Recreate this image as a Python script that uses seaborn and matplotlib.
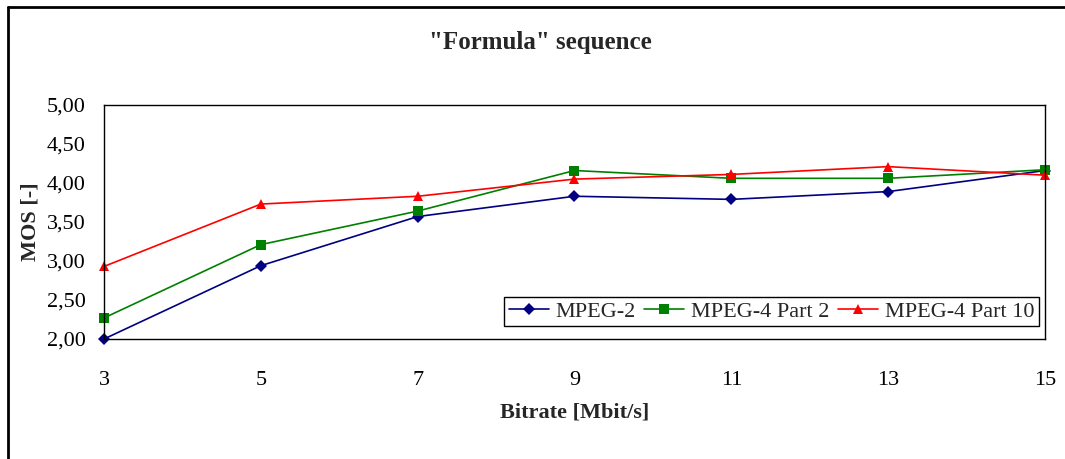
import matplotlib
matplotlib.use("Agg")
import matplotlib.pyplot as plt
from matplotlib.lines import Line2D
import seaborn as sns
import pandas as pd

# Bitrates in Mbit/s and mean opinion scores per codec
bitrates = [3, 5, 7, 9, 11, 13, 15]
mpeg2 = [2.00, 2.94, 3.57, 3.83, 3.79, 3.89, 4.16]
mpeg4_part2 = [2.27, 3.21, 3.64, 4.16, 4.06, 4.06, 4.17]
mpeg4_part10 = [2.93, 3.73, 3.83, 4.05, 4.11, 4.21, 4.10]
codecs = ["MPEG-2", "MPEG-4 Part 2", "MPEG-4 Part 10"]
y_ticks = [2.0, 2.5, 3.0, 3.5, 4.0, 4.5, 5.0]
y_tick_labels = ["2,00", "2,50", "3,00", "3,50", "4,00", "4,50", "5,00"]
x_ticks = [3, 5, 7, 9, 11, 13, 15]

df = pd.DataFrame({
    "Bitrate": bitrates * 3,
    "MOS": mpeg2 + mpeg4_part2 + mpeg4_part10,
    "Codec": [codecs[0]] * 7 + [codecs[1]] * 7 + [codecs[2]] * 7,
})

sns.set_style("white")
plt.rcParams["font.family"] = ["Liberation Serif", "DejaVu Serif"]

fig = plt.figure(figsize=(10.65, 4.59), dpi=100)
ax = fig.add_axes([104 / 1065, 1 - 339 / 459, (1045 - 104) / 1065, (339 - 105) / 459])

palette = {"MPEG-2": "#000080", "MPEG-4 Part 2": "#008000", "MPEG-4 Part 10": "#FF0000"}
markers = {"MPEG-2": "D", "MPEG-4 Part 2": "s", "MPEG-4 Part 10": "^"}

sns.lineplot(data=df, x="Bitrate", y="MOS", hue="Codec", style="Codec",
             hue_order=codecs, style_order=codecs,
             palette=palette, markers=markers, dashes=False,
             linewidth=1.2, markersize=6.5, markeredgewidth=0,
             ax=ax, clip_on=False, legend=True)

ax.set_xlim(3, 15)
ax.set_ylim(2, 5)
ax.set_xticks(x_ticks)
ax.set_xticklabels([str(v) for v in x_ticks])
ax.set_yticks(y_ticks)
ax.set_yticklabels(y_tick_labels)
ax.tick_params(axis="both", which="major", direction="out", length=5, width=1,
               color="black", labelsize=16, labelcolor="black")
ax.tick_params(axis="x", pad=18)
ax.tick_params(axis="y", pad=8)
ax.grid(False)
for side in ["left", "right", "top", "bottom"]:
    ax.spines[side].set_visible(True)
    ax.spines[side].set_color("black")
    ax.spines[side].set_linewidth(1.0)

ax.set_xlabel("")
ax.set_ylabel("")
fig.text(574.5 / 1065, 1 - 413 / 459, "Bitrate [Mbit/s]", ha="center", va="center",
         fontsize=16, fontweight="bold")
fig.text(30 / 1065, 1 - 222 / 459, "MOS [-]", ha="center", va="center",
         rotation=90, fontsize=16, fontweight="bold")
fig.text(540 / 1065, 1 - 43 / 459, '"Formula" sequence', ha="center", va="center",
         fontsize=18, fontweight="bold")

handles, labels = ax.get_legend_handles_labels()
leg = ax.legend(handles, labels, ncol=3, loc="lower right",
                bbox_to_anchor=(1039 / 1065, 1 - 326 / 459),
                bbox_transform=fig.transFigure, borderaxespad=0,
                fontsize=16, frameon=True, fancybox=False, shadow=False,
                framealpha=1, edgecolor="black", handlelength=1.8,
                handletextpad=0.3, columnspacing=0.4, borderpad=0.2)
leg.get_frame().set_linewidth(1.0)

# Chart frame: top and left border lines
fig.add_artist(Line2D([8 / 1065, 1.0], [1 - 7 / 459, 1 - 7 / 459],
                      transform=fig.transFigure, color="black", linewidth=2))
fig.add_artist(Line2D([8 / 1065, 8 / 1065], [0.0, 1 - 7 / 459],
                      transform=fig.transFigure, color="black", linewidth=2))

fig.savefig("out.png", dpi=100, facecolor="white")
